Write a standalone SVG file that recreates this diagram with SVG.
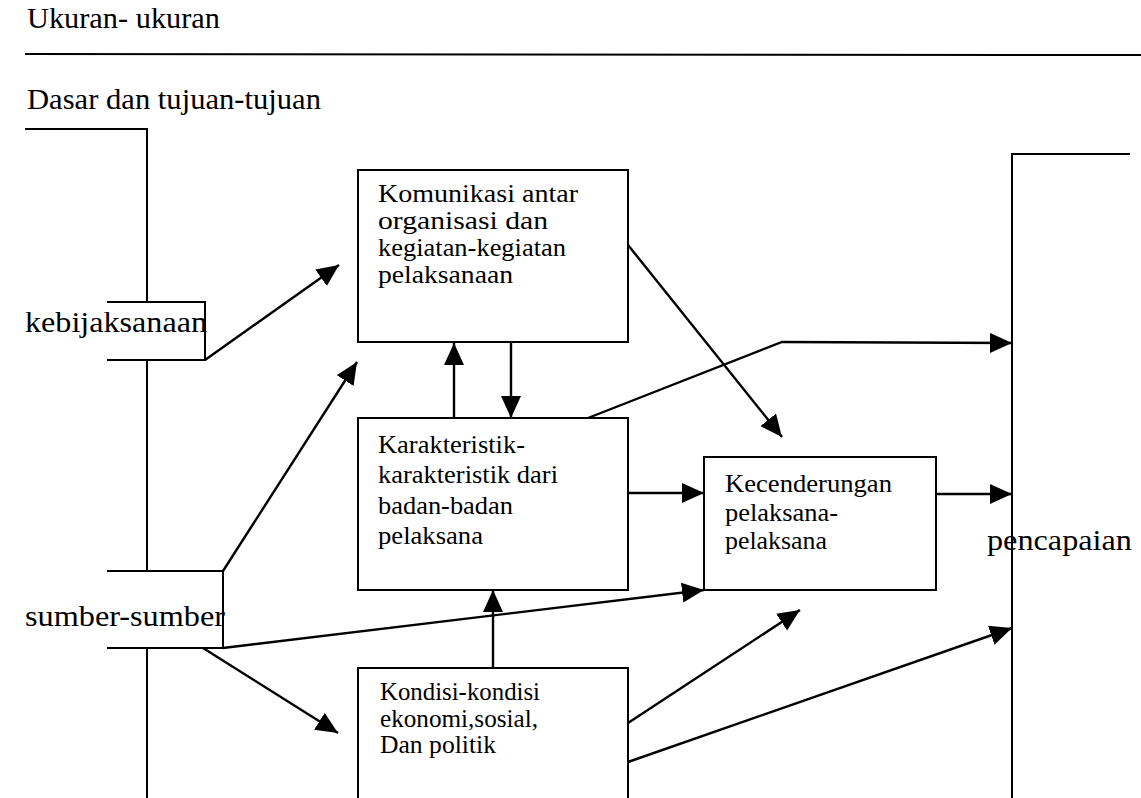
<svg xmlns="http://www.w3.org/2000/svg" width="1141" height="798" viewBox="0 0 1141 798">
<style>
  text { font-family: "Liberation Serif", "Times New Roman", "DejaVu Serif", serif; fill: #000; }
  .big { font-size: 30px; }
  .box { font-size: 25px; }
  .frame { fill: none; stroke: #000; stroke-width: 2; }
  .conn { fill: none; stroke: #000; stroke-width: 2.4; }
</style>
<defs>
  <marker id="arr" markerUnits="userSpaceOnUse" markerWidth="24" markerHeight="22" refX="22" refY="10" orient="auto">
    <path d="M0,0 L22,10 L0,20 z" fill="#000"/>
  </marker>
</defs>
<rect width="1141" height="798" fill="#fff"/>

<g id="header">
  <text class="big" x="27" y="28" textLength="193" lengthAdjust="spacingAndGlyphs">Ukuran- ukuran</text>
  <line class="frame" x1="25" y1="54" x2="1141" y2="55"/>
  <text class="big" x="27" y="109" textLength="294" lengthAdjust="spacingAndGlyphs">Dasar dan tujuan-tujuan</text>
</g>

<g id="dasar">
  <polyline class="frame" points="25,129 147,129 147,302"/>
  <line class="frame" x1="147" y1="360" x2="147" y2="571"/>
  <line class="frame" x1="147" y1="648" x2="147" y2="798"/>
</g>

<g id="kebijaksanaan">
  <polyline class="frame" points="107,302 205,302 205,360 107,360"/>
  <text class="big" x="25" y="332" textLength="182" lengthAdjust="spacingAndGlyphs">kebijaksanaan</text>
</g>

<g id="sumber">
  <polyline class="frame" points="107,571 223,571 223,648 107,648"/>
  <text class="big" x="25" y="626" textLength="200" lengthAdjust="spacingAndGlyphs">sumber-sumber</text>
</g>

<g id="komunikasi">
  <rect class="frame" x="358" y="170" width="270" height="172"/>
  <text class="box" x="378" y="202" textLength="200" lengthAdjust="spacingAndGlyphs">Komunikasi antar</text>
  <text class="box" x="378" y="229" textLength="170" lengthAdjust="spacingAndGlyphs">organisasi dan</text>
  <text class="box" x="378" y="256" textLength="188" lengthAdjust="spacingAndGlyphs">kegiatan-kegiatan</text>
  <text class="box" x="378" y="283" textLength="135" lengthAdjust="spacingAndGlyphs">pelaksanaan</text>
</g>

<g id="karakteristik">
  <rect class="frame" x="358" y="418" width="270" height="172"/>
  <text class="box" x="378" y="453" textLength="147" lengthAdjust="spacingAndGlyphs">Karakteristik-</text>
  <text class="box" x="378" y="483" textLength="180" lengthAdjust="spacingAndGlyphs">karakteristik dari</text>
  <text class="box" x="378" y="514" textLength="135" lengthAdjust="spacingAndGlyphs">badan-badan</text>
  <text class="box" x="378" y="544" textLength="105" lengthAdjust="spacingAndGlyphs">pelaksana</text>
</g>

<g id="kecenderungan">
  <rect class="frame" x="704" y="457" width="232" height="133"/>
  <text class="box" x="725" y="492" textLength="167" lengthAdjust="spacingAndGlyphs">Kecenderungan</text>
  <text class="box" x="725" y="521" textLength="113" lengthAdjust="spacingAndGlyphs">pelaksana-</text>
  <text class="box" x="725" y="549" textLength="102" lengthAdjust="spacingAndGlyphs">pelaksana</text>
</g>

<g id="kondisi">
  <polyline class="frame" points="358,800 358,668 628,668 628,800"/>
  <text class="box" x="380" y="700" textLength="160" lengthAdjust="spacingAndGlyphs">Kondisi-kondisi</text>
  <text class="box" x="380" y="727" textLength="158" lengthAdjust="spacingAndGlyphs">ekonomi,sosial,</text>
  <text class="box" x="380" y="753" textLength="116" lengthAdjust="spacingAndGlyphs">Dan politik</text>
</g>

<g id="pencapaian">
  <polyline class="frame" points="1130,154 1012,154 1012,798"/>
  <text class="big" x="987" y="550" textLength="145" lengthAdjust="spacingAndGlyphs">pencapaian</text>
</g>

<g id="connectors">
  <line class="conn" x1="205" y1="360" x2="339" y2="265" marker-end="url(#arr)"/>
  <line class="conn" x1="223" y1="571" x2="357" y2="362" marker-end="url(#arr)"/>
  <line class="conn" x1="223" y1="648" x2="704" y2="590" marker-end="url(#arr)"/>
  <line class="conn" x1="203" y1="648" x2="338" y2="733" marker-end="url(#arr)"/>
  <line class="conn" x1="454" y1="418" x2="454" y2="343" marker-end="url(#arr)"/>
  <line class="conn" x1="511" y1="342" x2="511" y2="418" marker-end="url(#arr)"/>
  <line class="conn" x1="628" y1="245" x2="782" y2="437" marker-end="url(#arr)"/>
  <polyline class="conn" points="588,418 782,342 1012,343" marker-end="url(#arr)"/>
  <line class="conn" x1="628" y1="493" x2="704" y2="493" marker-end="url(#arr)"/>
  <line class="conn" x1="936" y1="494" x2="1012" y2="494" marker-end="url(#arr)"/>
  <line class="conn" x1="493" y1="668" x2="493" y2="590" marker-end="url(#arr)"/>
  <line class="conn" x1="628" y1="723" x2="800" y2="610" marker-end="url(#arr)"/>
  <line class="conn" x1="628" y1="762" x2="1012" y2="628" marker-end="url(#arr)"/>
</g>
</svg>
